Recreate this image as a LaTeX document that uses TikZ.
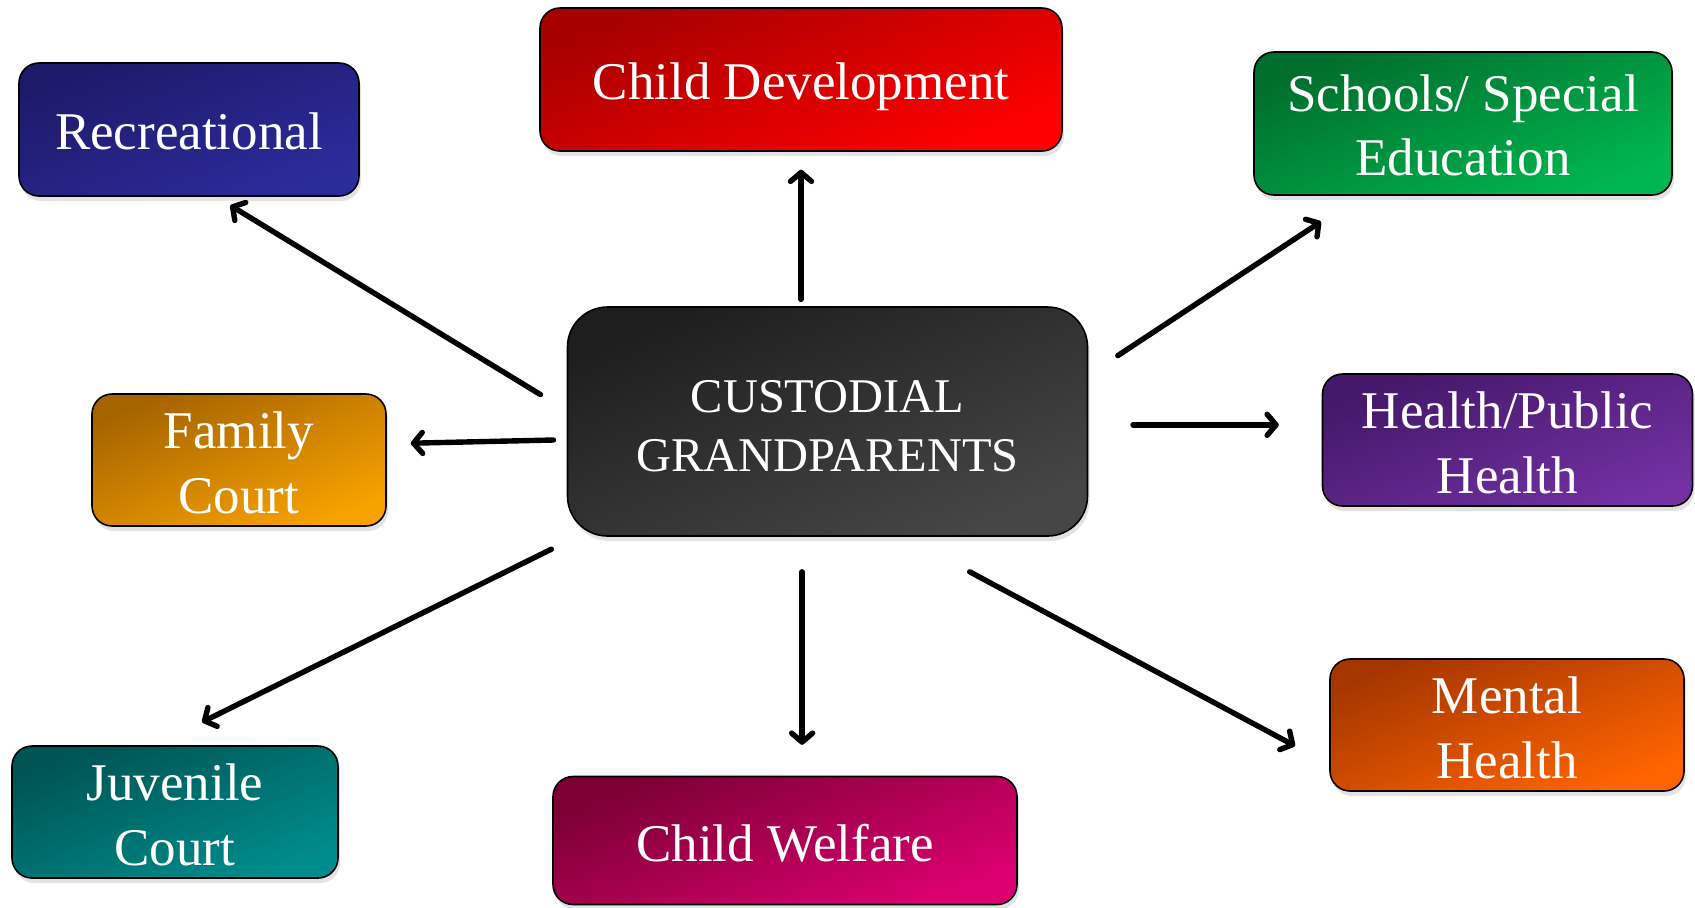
\documentclass[tikz,border=0pt]{standalone}
\usepackage{fontspec}
\setmainfont{Liberation Serif}
\usetikzlibrary{arrows.meta,shadows}
\definecolor{recA}{HTML}{1E1A6A}\definecolor{recB}{HTML}{2C2B9C}
\definecolor{cdA}{HTML}{A60000}\definecolor{cdB}{HTML}{FF0000}
\definecolor{schA}{HTML}{006E2C}\definecolor{schB}{HTML}{00B650}
\definecolor{famA}{HTML}{A66400}\definecolor{famB}{HTML}{F8A200}
\definecolor{cenA}{HTML}{1E1E1E}\definecolor{cenB}{HTML}{464646}
\definecolor{heaA}{HTML}{44186A}\definecolor{heaB}{HTML}{7230A2}
\definecolor{juvA}{HTML}{005454}\definecolor{juvB}{HTML}{008C8C}
\definecolor{welA}{HTML}{7C0034}\definecolor{welB}{HTML}{DC0070}
\definecolor{menA}{HTML}{A63600}\definecolor{menB}{HTML}{FF6400}
\tikzset{
  box/.style={draw=black, line width=0.8pt, rounded corners=10pt, inner sep=0pt,
    drop shadow={opacity=0.22, shadow xshift=1pt, shadow yshift=-2.5pt}},
  lbl/.style={align=center, text=white, inner sep=0pt,
    font=\fontsize{26.5}{32.4}\selectfont},
  grad/.style n args={2}{top color=#1, bottom color=#2, shading angle=22},
  conn/.style={line width=2.7pt, line cap=round,
    -{Straight Barb[length=4.5pt,width=10.5pt,line cap=round,line join=round]}}
}
\begin{document}
\begin{tikzpicture}[x=0.5pt,y=-0.5pt]
\useasboundingbox (0,0) rectangle (1695,907);
\node[box, grad={recA}{recB}, minimum width=170pt, minimum height=66.5pt,
  label={[lbl,yshift=-1.1pt]center:Recreational}] (rec) at (189,129.5) {};
\node[box, grad={cdA}{cdB}, minimum width=261pt, minimum height=71.5pt,
  label={[lbl,yshift=-3.8pt]center:Child Development}] (cd) at (801,79.5) {};
\node[box, grad={schA}{schB}, minimum width=209pt, minimum height=71.5pt,
  label={[lbl,yshift=-0.9pt]center:Schools/ Special\\Education}] (sch) at (1463,123.5) {};
\node[box, grad={famA}{famB}, minimum width=147pt, minimum height=66pt,
  label={[lbl,yshift=-1.6pt]center:Family\\Court}] (fam) at (239,460) {};
\node[box, grad={cenA}{cenB}, rounded corners=20pt, minimum width=260pt, minimum height=114.5pt,
  label={[lbl,yshift=-2.5pt,font=\fontsize{24.2}{29.5}\selectfont]center:CUSTODIAL\\GRANDPARENTS}] (cen) at (827.5,421.5) {};
\node[box, grad={heaA}{heaB}, minimum width=185pt, minimum height=66pt,
  label={[lbl,yshift=-1.6pt]center:Health/Public\\Health}] (hea) at (1507.5,440) {};
\node[box, grad={juvA}{juvB}, minimum width=163pt, minimum height=66pt,
  label={[lbl,yshift=-1.6pt]center:Juvenile\\Court}] (juv) at (175,812) {};
\node[box, grad={welA}{welB}, minimum width=232pt, minimum height=64pt,
  label={[lbl,yshift=-1.6pt]center:Child Welfare}] (wel) at (785,840.5) {};
\node[box, grad={menA}{menB}, minimum width=177pt, minimum height=66pt,
  label={[lbl,yshift=-1.6pt]center:Mental\\Health}] (men) at (1507,725) {};

\coordinate (s1) at (540.5,394.6);  \coordinate (e1) at (230.3,205.4);
\coordinate (s2) at (801,299.4);    \coordinate (e2) at (801,169.7);
\coordinate (s3) at (1117.8,355.6); \coordinate (e3) at (1321,221.6);
\coordinate (s4) at (553.5,440);    \coordinate (e4) at (410.8,443.2);
\coordinate (s5) at (1133,424.8);   \coordinate (e5) at (1278.8,424.8);
\coordinate (s6) at (551.3,549.2);  \coordinate (e6) at (202.1,722.1);
\coordinate (s7) at (802.1,571.8);  \coordinate (e7) at (802.1,744.8);
\coordinate (s8) at (969.7,571.8);  \coordinate (e8) at (1295,745.9);
\foreach \i in {1,...,8} {\draw[conn] (s\i) -- (e\i);}
\end{tikzpicture}
\end{document}
